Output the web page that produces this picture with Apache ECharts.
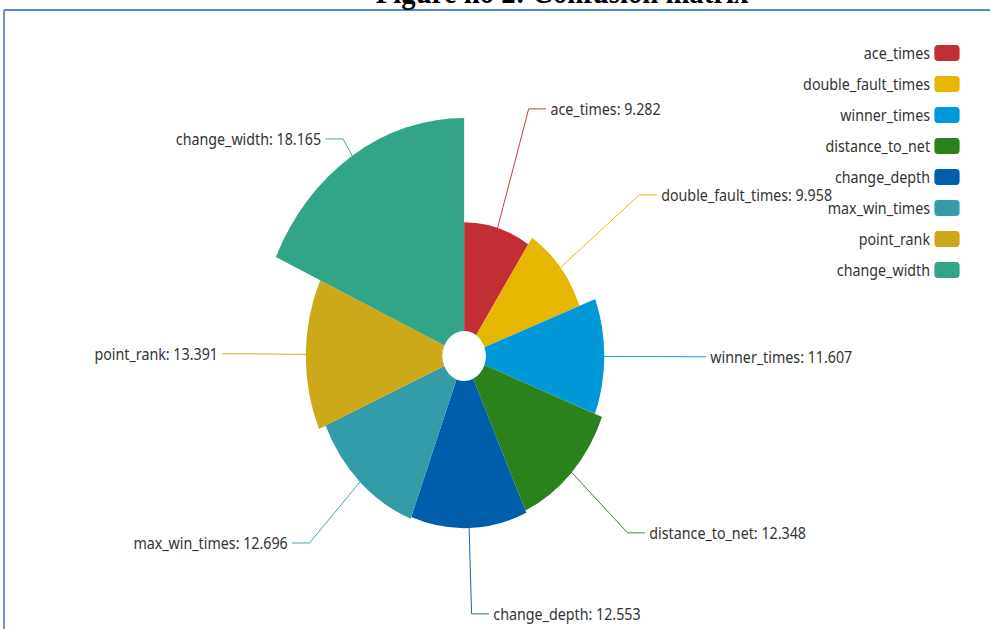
<!DOCTYPE html>
<html>
<head>
<meta charset="utf-8">
<title>Figure no 2: Confusion matrix</title>
<script src="https://cdn.jsdelivr.net/npm/echarts@6/dist/echarts.min.js"></script>
<style>
  html, body { margin: 0; padding: 0; background: #ffffff; overflow: hidden; }
  #stage { position: relative; width: 990px; height: 629px; overflow: hidden; }
  /* the figure is laid out wider and then condensed horizontally */
  #chart { width: 1138px; height: 629px; transform: scaleX(0.87); transform-origin: 0 0; }
</style>
</head>
<body>
<div id="stage"><div id="chart"></div></div>
<script>
// Feature weights shown in the rose diagram
const categories = [
  'ace_times', 'double_fault_times', 'winner_times', 'distance_to_net',
  'change_depth', 'max_win_times', 'point_rank', 'change_width'
];
const values = [9.282, 9.958, 11.607, 12.348, 12.553, 12.696, 13.391, 18.165];
const colors = ['#c12e34', '#e6b600', '#0098d9', '#2b821d', '#005eaa', '#339ca8', '#cda819', '#32a487'];
const figureTitle = 'Figure no 2: Confusion matrix';

const labelFont = 'Noto Sans, sans-serif';
const chart = echarts.init(document.getElementById('chart'), null, { renderer: 'svg' });

const option = {
  color: colors,
  animation: false,
  graphic: [
    // frame of the figure box
    { type: 'line', silent: true, shape: { x1: 4.6, y1: 10, x2: 1138, y2: 10 },
      style: { stroke: '#5a86c8', lineWidth: 2 } },
    { type: 'line', silent: true, shape: { x1: 4.6, y1: 10, x2: 4.6, y2: 629 },
      style: { stroke: '#5a86c8', lineWidth: 2 } },
    { type: 'text', silent: true, x: 646, y: 8,
      style: { text: figureTitle, fill: '#000', font: 'bold 33px "Liberation Serif", serif',
               textAlign: 'center', textVerticalAlign: 'bottom' } }
  ],
  legend: {
    orient: 'vertical',
    right: 30,
    top: 40,
    align: 'right',
    icon: 'roundRect',
    itemWidth: 29,
    itemHeight: 16,
    itemGap: 15,
    data: categories,
    textStyle: { fontFamily: labelFont, fontSize: 16.4, color: '#333' }
  },
  series: [{
    type: 'pie',
    roseType: 'radius',
    center: [533.5, 356],
    radius: [25, 238],
    startAngle: 90,
    clockwise: true,
    data: categories.map((name, i) => ({ name: name, value: values[i] })),
    label: {
      show: true,
      position: 'outer',
      formatter: '{b}: {c}',
      fontFamily: labelFont,
      fontSize: 16.4,
      color: '#333'
    },
    labelLine: { show: true, length: 20, length2: 20, lineStyle: { width: 1 } },
    itemStyle: { borderWidth: 0 },
    emphasis: { disabled: true }
  }]
};
chart.setOption(option);
</script>
</body>
</html>
